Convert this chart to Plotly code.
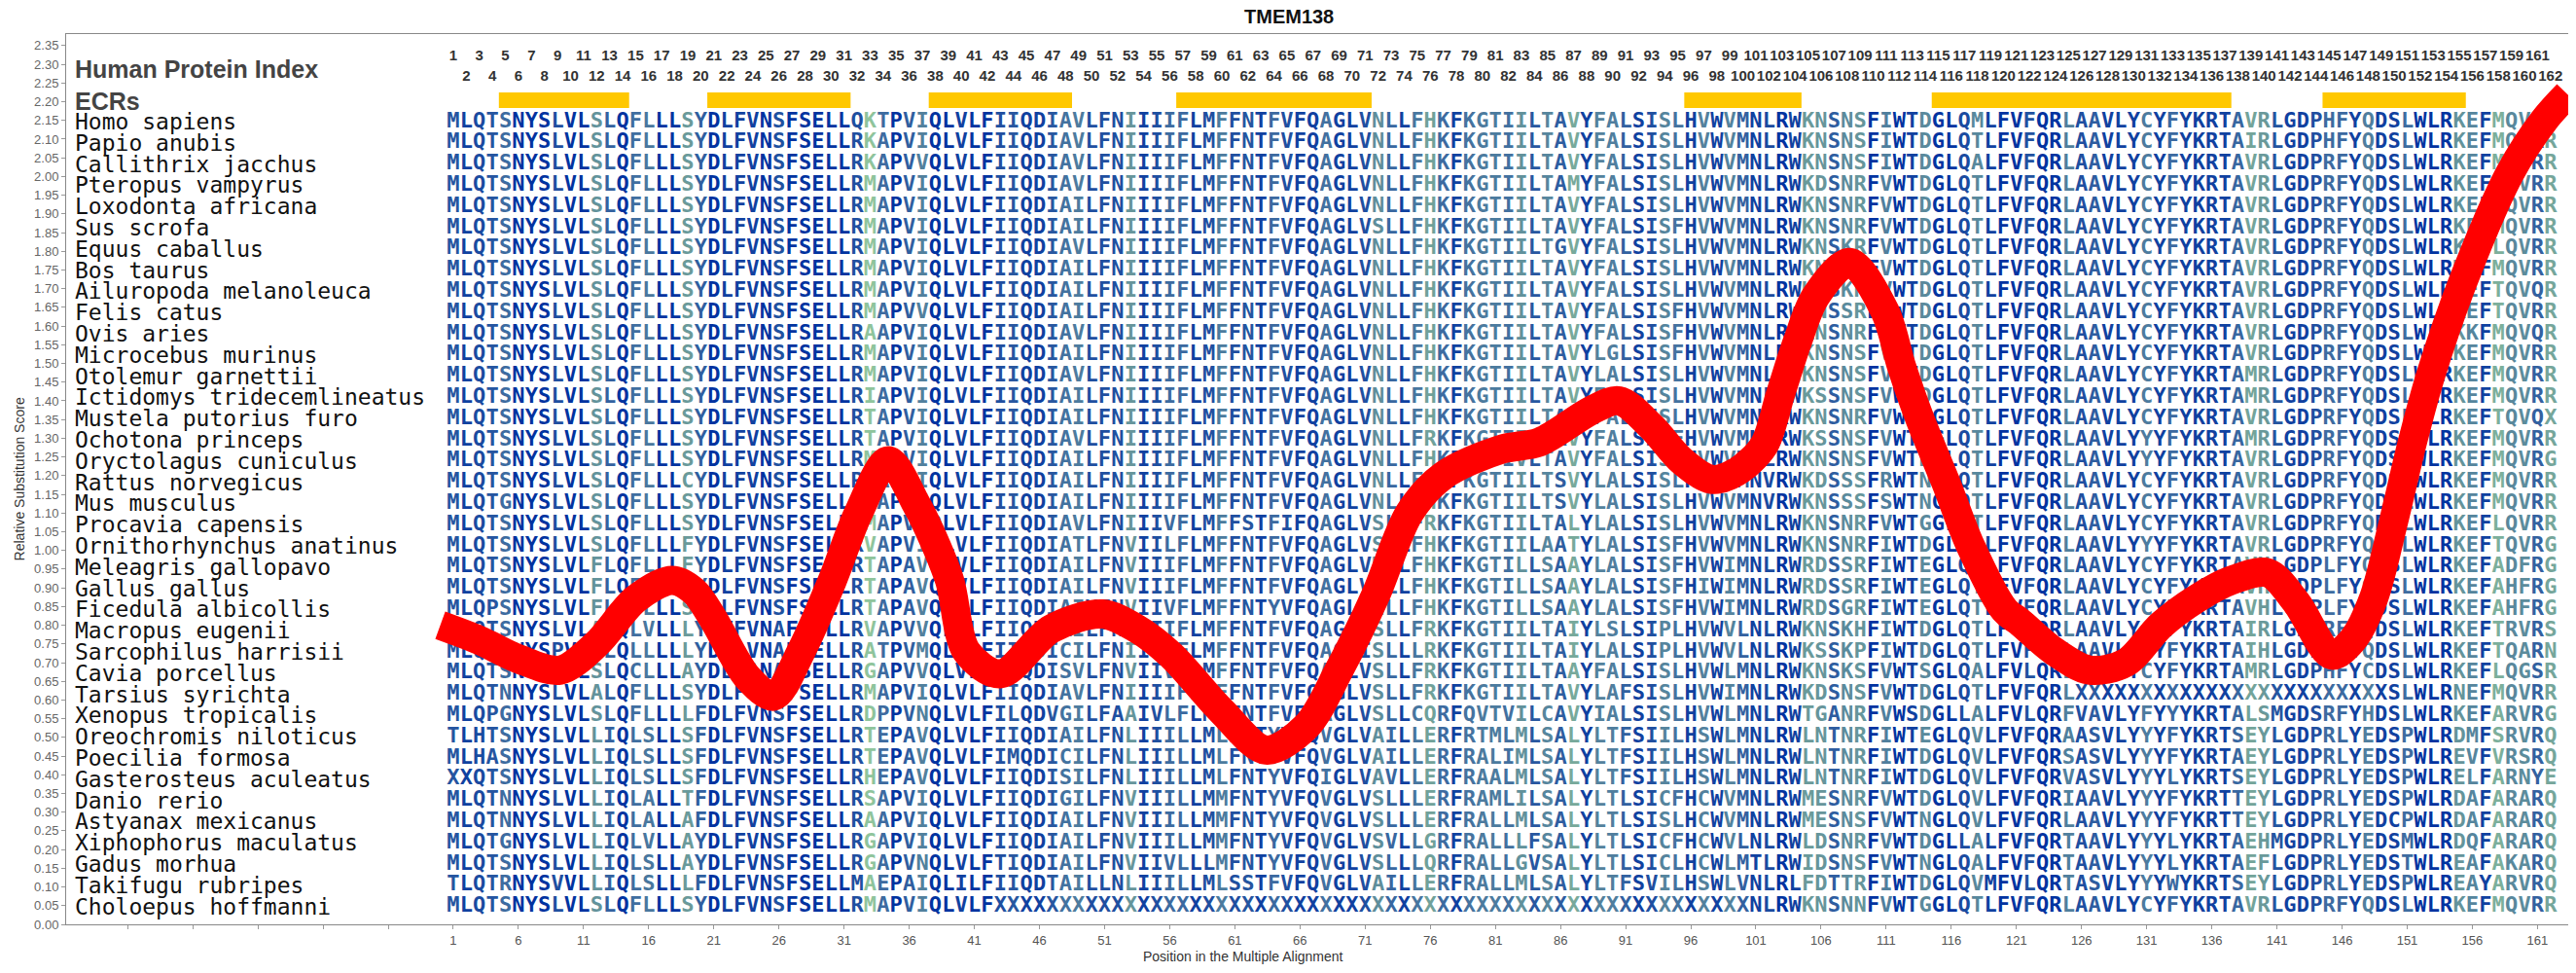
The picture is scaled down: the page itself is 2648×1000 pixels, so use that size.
import math
from collections import Counter

import plotly.graph_objects as go


TITLE = "TMEM138"

SPECIES = [
    "Homo sapiens", "Papio anubis", "Callithrix jacchus", "Pteropus vampyrus",
    "Loxodonta africana", "Sus scrofa", "Equus caballus", "Bos taurus",
    "Ailuropoda melanoleuca", "Felis catus", "Ovis aries", "Microcebus murinus",
    "Otolemur garnettii", "Ictidomys tridecemlineatus", "Mustela putorius furo",
    "Ochotona princeps", "Oryctolagus cuniculus", "Rattus norvegicus", "Mus musculus",
    "Procavia capensis", "Ornithorhynchus anatinus", "Meleagris gallopavo", "Gallus gallus",
    "Ficedula albicollis", "Macropus eugenii", "Sarcophilus harrisii", "Cavia porcellus",
    "Tarsius syrichta", "Xenopus tropicalis", "Oreochromis niloticus", "Poecilia formosa",
    "Gasterosteus aculeatus", "Danio rerio", "Astyanax mexicanus", "Xiphophorus maculatus",
    "Gadus morhua", "Takifugu rubripes", "Choloepus hoffmanni",
]

# alignment columns 1-40
SEQ_1_40 = [
    "MLQTSNYSLVLSLQFLLLSYDLFVNSFSELLQKTPVIQLV",
    "MLQTSNYSLVLSLQFLLLSYDLFVNSFSELLRKAPVIQLV",
    "MLQTSNYSLVLSLQFLLLSYDLFVNSFSELLRKAPVVQLV",
    "MLQTSNYSLVLSLQFLLLSYDLFVNSFSELLRMAPVIQLV",
    "MLQTSNYSLVLSLQFLLLSYDLFVNSFSELLRMAPVIQLV",
    "MLQTSNYSLVLSLQFLLLSYDLFVNSFSELLRMAPVIQLV",
    "MLQTSNYSLVLSLQFLLLSYDLFVNSFSELLRMAPVIQLV",
    "MLQTSNYSLVLSLQFLLLSYDLFVNSFSELLRMAPVIQLV",
    "MLQTSNYSLVLSLQFLLLSYDLFVNSFSELLRMAPVIQLV",
    "MLQTSNYSLVLSLQFLLLSYDLFVNSFSELLRMAPVVQLV",
    "MLQTSNYSLVLSLQFLLLSYDLFVNSFSELLRAAPVIQLV",
    "MLQTSNYSLVLSLQFLLLSYDLFVNSFSELLRMAPVIQLV",
    "MLQTSNYSLVLSLQFLLLSYDLFVNSFSELLRMAPVIQLV",
    "MLQTSNYSLVLSLQFLLLSYDLFVNSFSELLRIAPVIQLV",
    "MLQTSNYSLVLSLQFLLLSYDLFVNSFSELLRTAPVIQLV",
    "MLQTSNYSLVLSLQFLLLSYDLFVNSFSELLRTAPVIQLV",
    "MLQTSNYSLVLSLQFLLLSYDLFVNSFSELLRMAPVIQLV",
    "MLQTSNYSLVLSLQFLLLCYDLFVNSFSELLRMAPVIQLV",
    "MLQTGNYSLVLSLQFLLLSYDLFVNSFSELLRMAPVIQLV",
    "MLQTSNYSLVLSLQFLLLSYDLFVNSFSELLRMAPVIQLV",
    "MLQTSNYSLVLSLQFLLLFYDLFVNSFSELLRVAPVIQLV",
    "MLQTSNYSLVLFLQFLLLFYDLFVNSFSELLRTAPAVQLV",
    "MLQTSNYSLVLFLQFLLLFYDLFVNSFSELLRTAPAVQLV",
    "MLQPSNYSLVLFLQFLLLSYDLFVNSFSELLRTAPAVQLV",
    "MLQTSNYSLVLALQLVLLLYDVFVNAFSELLRVAPVVQLV",
    "MLQTSNYSPVLPLQLLLLLYDLLVNAFSELLRATPVMQLV",
    "MLQTSNYSLVLSLQCLLLAYDLFANAFSELLRGAPVVQLV",
    "MLQTNNYSLVLALQFLLLSYDLFVNSFSELLRMAPVIQLV",
    "MLQPGNYSLVLSLQFLLLLFDLFVNSFSELLRDPPVNQLV",
    "TLHTSNYSLVLLIQLSLLSFDLFVNSFSELLRTEPAVQLV",
    "MLHASNYSLVLLIQLSLLSFDLFVNSFSELLRTEPAVQLV",
    "XXQTSNYSLVLLIQLSLLSFDLFVNSFSELLRHEPAVQLV",
    "MLQTNNYSLVLLIQLALLTFDLFVNSFSELLRSAPVIQLV",
    "MLQTNNYSLVLLIQLALLAFDLFVNSFSELLRAAPVIQLV",
    "MLQTGNYSLVLLIQLVLLAYDLFVNSFSELLRGAPVIQLV",
    "MLQTSNYSLVLLIQLSLLAYDLFVNSFSELLRGAPVNQLV",
    "TLQTRNYSVVLLIQLSLLLFDLFVNSFSELLMAEPAIQLI",
    "MLQTSNYSLVLSLQFLLLSYDLFVNSFSELLRMAPVIQLV",
]

# alignment columns 41-80
SEQ_41_80 = [
    "LFIIQDIAVLFNIIIIFLMFFNTFVFQAGLVNLLFHKFKG",
    "LFIIQDIAVLFNIIIIFLMFFNTFVFQAGLVNLLFHKFKG",
    "LFIIQDIAVLFNIIIIFLMFFNTFVFQAGLVNLLFHKFKG",
    "LFIIQDIAVLFNIIIIFLMFFNTFVFQAGLVNLLFHKFKG",
    "LFIIQDIAILFNIIIIFLMFFNTFVFQAGLVNLLFHKFKG",
    "LFIIQDIAILFNIIIIFLMFFNTFVFQAGLVSLLFHKFKG",
    "LFIIQDIAVLFNIIIIFLMFFNTFVFQAGLVNLLFHKFKG",
    "LFIIQDIAILFNIIIIFLMFFNTFVFQAGLVNLLFHKFKG",
    "LFIIQDIAILFNIIIIFLMFFNTFVFQAGLVNLLFHKFKG",
    "LFIIQDIAILFNIIIIFLMFFNTFVFQAGLVNLLFHKFKG",
    "LFIIQDIAVLFNIIIIFLMFFNTFVFQAGLVNLLFHKFKG",
    "LFIIQDIAILFNIIIIFLMFFNTFVFQAGLVNLLFHKFKG",
    "LFIIQDIAVLFNIIIIFLMFFNTFVFQAGLVNLLFHKFKG",
    "LFIIQDIAILFNIIIIFLMFFNTFVFQAGLVNLLFHKFKG",
    "LFIIQDIAILFNIIIIFLMFFNTFVFQAGLVNLLFHKFKG",
    "LFIIQDIAVLFNIIIIFLMFFNTFVFQAGLVNLLFRKFKG",
    "LFIIQDIAILFNIIIIFLMFFNTFVFQAGLVNLLFHKFKG",
    "LFIIQDIAILFNIIIIFLMFFNTFVFQAGLVNLLFHKFKG",
    "LFIIQDIAILFNIIIIFLMFFNTFVFQAGLVNLLFHKFKG",
    "LFIIQDIAVLFNIIIVFLMFFSTFIFQAGLVSLLFRKFKG",
    "LFIIQDIATLFNVIILFLMFFNTFVFQAGLVSLLFHKFKG",
    "LFIIQDIAILFNVIIIFLMFFNTFVFQAGLVNLLFHKFKG",
    "LFIIQDIAILFNVIIIFLMFFNTFVFQAGLVNLLFHKFKG",
    "LFIIQDIAIVFNVIIVFLMFFNTYVFQAGLVNLLFHKFKG",
    "LFIIQDIAILFNVIIIFLMFFNTFVFQAGLVSLLFRKFKG",
    "LFIIQDICILFNIIIIFLMFFNTFVFQAGLISLLLRKFKG",
    "LFIIQDISVLFNVIIVFLMFFNTFVFQAGLVSLLFRKFKG",
    "LFIIQDIAVLFNIIIIFLMFFNTFVFQAGLVSLLFRKFKG",
    "LFILQDVGILFAAIVLFLMLFNTFVFQAGLVSLLCQRFQV",
    "LFIIQDIAILFNLIIILLMLFNTYVFQVGLVAILLERFRT",
    "LFIMQDICILFNLIIILLMLFNTYVFQVGLVAILLERFRA",
    "LFIIQDISILFNLIIILLMLFNTYVFQIGLVAVLLERFRA",
    "LFIIQDIGILFNVIIILLMMFNTYVFQVGLVSLLLERFRA",
    "LFIIQDIAILFNVIIILLMMFNTYVFQVGLVSLLLERFRA",
    "LFIIQDIAILFNVIIILLMMFNTYVFQVGLVSVLLGRFRA",
    "LFTIQDIAILFNVIIVLLLMFNTYVFQVGLVSLLLQRFRA",
    "LFIIQDTAILLNLIIILLMLSSTFVFQVGLVAILLERFRA",
    "LFXXXXXXXXXXXXXXXXXXXXXXXXXXXXXXXXXXXXXX",
]

# alignment columns 81-120
SEQ_81_120 = [
    "TIILTAVYFALSISLHVWVMNLRWKNSNSFIWTDGLQMLF",
    "TIILTAVYFALSISLHVWVMNLRWKNSNSFIWTDGLQTLF",
    "TIILTAVYFALSISLHVWVMNLRWKNSNSFIWTDGLQALF",
    "TIILTAMYFALSISLHVWVMNLRWKDSNRFVWTDGLQTLF",
    "TIILTAVYFALSISLHVWVMNLRWKNSNRFVWTDGLQTLF",
    "TIILTAVYFALSISFHVWVMNLRWKNSNRFVWTDGLQTLF",
    "TIILTGVYFALSISLHVWVMNLRWKNSKRFVWTDGLQTLF",
    "TIILTAVYFALSISLHVWVMNLRWKNSNCFVWTDGLQTLF",
    "TIILTAVYFALSISLHVWVMNLRWKNSKRFVWTDGLQTLF",
    "TIILTAVYFALSISFHVWVMNLRWKNSSRFVWTDGLQTLF",
    "TIILTAVYFALSISFHVWVMNLRWKNSNRFVWTDGLQTLF",
    "TIILTAVYLGLSISFHVWVMNLRWKNSNSFVWTDGLQTLF",
    "TIILTAVYLALSISLHVWVMNLRWKNSNSFVWTDGLQTLF",
    "TIILTAVYFALSISLHVWVMNLRWKSSNSFVWTDGLQTLF",
    "TIILTAVYFALSISLHVWVMNLRWKNSNRFVWTDGLQTLF",
    "TIILTAVYFALSISFHVWVMNLRWKSSNSFVWTDGLQTLF",
    "TIVLTAVYFALSISFHVWVMNLRWKNSNSFVWTDGLQTLF",
    "TIILTSVYLALSISLHVWVMNVRWKDSSSFRWTNGLQTLF",
    "TIILTSVYLALSISLHVWVMNVRWKNSSSFSWTNGLQTLF",
    "TIILTALYLALSISLHVWVMNLRWKNSNRFVWTGGLQTLF",
    "TIILAATYLALSISFHVWVMNLRWKNSNRFIWTDGLQALF",
    "TILLSAAYLALSISFHVWIMNLRWRDSSRFIWTEGLQTLF",
    "TILLSAAYLALSISFHIWIMNLRWRDSSRFIWTEGLQTLF",
    "TILLSAAYLALSISFHVWIMNLRWRDSGRFIWTEGLQTLF",
    "TIILTAIYLSLSIPLHVWVLNLRWKNSKHFIWTDGLQTLF",
    "TIILTAIYLALSIPLHVWVLNLRWKSSKPFIWTDGLQTLF",
    "TIILTAAYFALSISLHVWLMNLRWKNSKSFVWTSGLQALF",
    "TIILTAVYLAFSISLHVWIMNLRWKDSNSFVWTDGLQTLF",
    "TVILCAVYIALSISLHVWLMNLRWTGANRFVWSDGLLALF",
    "MLMLSALYLTFSIILHSWLMNLRWLNTNRFIWTEGLQVLF",
    "LIMLSALYLTFSIILHSWLMNLRWLNTNRFIWTDGLQVLF",
    "ALMLSALYLTFSIILHSWLMNLRWLNTNRFIWTDGLQVLF",
    "MLILSALYLTLSICFHCWVMNLRWMESNRFVWTDGLQVLF",
    "LLMLSALYLTLSISLHCWVMNLRWMESNSFVWTNGLQVLF",
    "LLLFSALYLTLSICFHCWVLNLRWLDSNRFVWTDGLLALF",
    "LLGVSALYLTLSICLHCWLMTLRWIDSNSFVWTNGLQALF",
    "LLMLSALYLTFSVILHSWLVNLRLFDTTRFIWTDGLQVMF",
    "XXXXXXXXXXXXXXXXXXXXNLRWKNSNNFVWTGGLQTLF",
]

# alignment columns 121-162
SEQ_121_162 = [
    "VFQRLAAVLYCYFYKRTAVRLGDPHFYQDSLWLRKEFMQVRR",
    "VFQRLAAVLYCYFYKRTAIRLGDPHFYQDSLWLRKEFMQVRR",
    "VFQRLAAVLYCYFYKRTAVRLGDPRFYQDSLWLRKEFMQVRR",
    "VFQRLAAVLYCYFYKRTAVRLGDPRFYQDSLWLRKEFMQVRR",
    "VFQRLAAVLYCYFYKRTAVRLGDPRFYQDSLWLRKEFLQVRR",
    "VFQRLAAVLYCYFYKRTAVRLGDPRFYQDSLWLRKEFMQVRR",
    "VFQRLAAVLYCYFYKRTAVRLGDPRFYQDSLWLRKEFLQVRR",
    "VFQRLAAVLYCYFYKRTAVRLGDPRFYQDSLWLRMEFMQVRR",
    "VFQRLAAVLYCYFYKRTAVRLGDPRFYQDSLWLRREFTQVQR",
    "VFQRLAAVLYCYFYKRTAVRLGDPRFYQDSLWLRREFTQVRR",
    "VFQRLAAVLYCYFYKRTAVRLGDPRFYQDSLWLRKKFMQVQR",
    "VFQRLAAVLYCYFYKRTAVRLGDPRFYQDSLWLRKEFMQVRR",
    "VFQRLAAVLYCYFYKRTAMRLGDPRFYQDSLWLRKEFMQVRR",
    "VFQRLAAVLYCYFYKRTAMRLGDPRFYQDSLWLRKEFMQVRR",
    "VFQRLAAVLYCYFYKRTAVRLGDPRFYQDSLWLRKEFTQVQX",
    "VFQRLAAVLYYYFYKRTAMRLGDPRFYQDSLWLRKEFMQVRR",
    "VFQRLAAVLYYYFYKRTAVRLGDPRFYQDSLWLRKEFMQVRG",
    "VFQRLAAVLYCYFYKRTAVRLGDPRFYQDSLWLRKEFMQVRR",
    "VFQRLAAVLYCYFYKRTAVRLGDPRFYQDSLWLRKEFMQVRR",
    "VFQRLAAVLYCYFYKRTAVRLGDPRFYQDSLWLRKEFLQVRR",
    "VFQRLAAVLYYYFYKRTAVRLGDPRFYQDSLWLRKEFTQVRG",
    "VFQRLAAVLYCYFYKRTAVHLGDPLFYQDSLWLRKEFADFRG",
    "VFQRLAAVLYCYFYKRTAVHLGDPLFYQDSLWLRKEFAHFRG",
    "VFQRLAAVLYCYFYKRTAVHLGDPLFYQDSLWLRKEFAHFRG",
    "VFQRLAAVLYCYFYKRTAIRLGDPRFYQDSLWLRKEFTRVRS",
    "VFQRLAAVLYCYFYKRTAIHLGDPRFYQDSLWLRKEFTQARN",
    "VLQRLAAVLYCYFYKRTAMRLGDPHFYCDSLWLRKEFLQGSR",
    "VFQRLXXXXXXXXXXXXXXXXXXXXXXXXSLWLRNEFMQVRR",
    "VLQRFVAVLYFYYYKRTALSMGDSRFYHDSLWLRKEFARVRG",
    "VFQRAASVLYYYFYKRTSEYLGDPRLYEDSPWLRDMFSRVRQ",
    "VFQRSASVLYYYFYKRTAEYLGDPRLYEDSPWLREVFVRSRQ",
    "VFQRVASVLYYYLYKRTSEYLGDPRLYEDSPWLRELFARNYE",
    "VFQRIAAVLYYYFYKRTTEYLGDPRLYEDSPWLRDAFARARQ",
    "VFQRLAAVLYYYFYKRTTEYLGDPRLYEDCPWLRDAFARARQ",
    "VFQRTAAVLYYYLYKRTAEHMGDPRLYEDSMWLRDQFARARQ",
    "VFQRTAAVLYYYLYKRTAEFLGDPRLYEDSTWLREAFAKARQ",
    "VLQRTASVLYYYWYKRTSEYLGDPRLYEDSPWLREAYARVRQ",
    "VFQRLAAVLYCYFYKRTAVRLGDPRFYQDSLWLRKEFMQVRR",
]

ECR_START = [5, 21, 38, 57, 96, 115, 145]
ECR_END = [14, 31, 48, 71, 104, 137, 155]

# relative substitution score
SCORE_POS = [0, 3, 6, 9.2, 12, 15, 17.8, 19.5, 20.9, 23.6, 25.6, 27.7, 30.1, 32.1, 34.4,
             36.6, 37.6, 39.1, 40.4, 43, 46.9, 50.8, 53.5, 56.1, 60, 63.4, 66.5, 69,
             71.8, 74.4, 77, 81.4, 84.4, 88.4, 90.5, 93, 95.3, 97.6, 99.5, 101.6, 102.9,
             104.2, 105.6, 108.2, 110.9, 112.2, 113.5, 115.6, 117.5, 120.1, 121.2, 123.9,
             126.6, 129.4, 132.1, 134.8, 137.5, 140.3, 142.5, 145.2, 146.8, 148.4, 149.9,
             151.4, 152.9, 155.4, 158.9, 161.5, 163.3]
SCORE_VAL = [0.80, 0.76, 0.71, 0.68, 0.75, 0.87, 0.92, 0.89, 0.82, 0.66, 0.61, 0.73, 0.92,
             1.10, 1.24, 1.12, 1.05, 0.92, 0.73, 0.67, 0.79, 0.83, 0.79, 0.72, 0.57, 0.466,
             0.53, 0.68, 0.88, 1.10, 1.20, 1.27, 1.29, 1.375, 1.40, 1.33, 1.24, 1.19, 1.21,
             1.28, 1.42, 1.56, 1.68, 1.77, 1.64, 1.49, 1.36, 1.18, 1.01, 0.84, 0.81, 0.73,
             0.68, 0.70, 0.80, 0.87, 0.92, 0.94, 0.86, 0.72, 0.76, 0.87, 1.07,
             1.29, 1.48, 1.73, 2.01, 2.15, 2.22]

Y_TICKS = [round(i * 0.05, 2) for i in range(48)]
X_TICKS = list(range(-29, 162, 5))

SEQUENCES = [a + b + c + d for a, b, c, d in zip(SEQ_1_40, SEQ_41_80, SEQ_81_120, SEQ_121_162)]
N_COL = 162

FONT_SANS = "Liberation Sans, Arial, sans-serif"
FONT_MONO = "DejaVu Sans Mono"

# conservation colours: column entropy (bits) -> dark blue ... light green
COLOR_STOPS = [
    (0.0, (0, 51, 160)),
    (0.35, (31, 79, 160)),
    (0.95, (61, 107, 160)),
    (1.65, (106, 154, 154)),
    (2.5, (143, 196, 156)),
]


def _column_color(column: str) -> str:
    counts = Counter(column)
    total = len(column)
    h = -sum(c / total * math.log2(c / total) for c in counts.values())
    if h <= COLOR_STOPS[0][0]:
        rgb = COLOR_STOPS[0][1]
    elif h >= COLOR_STOPS[-1][0]:
        rgb = COLOR_STOPS[-1][1]
    else:
        for (h0, c0), (h1, c1) in zip(COLOR_STOPS[:-1], COLOR_STOPS[1:]):
            if h0 <= h <= h1:
                t = (h - h0) / (h1 - h0)
                rgb = tuple(round(a + (b - a) * t) for a, b in zip(c0, c1))
                break
    return "rgb({},{},{})".format(*rgb)


col_colors = []
for j in range(N_COL):
    col_colors.append(_column_color("".join(s[j] if j < len(s) else "X" for s in SEQUENCES)))

xs, ys, chars, colors = [], [], [], []
for i, seq in enumerate(SEQUENCES):
    for j, ch in enumerate(seq[:N_COL]):
        xs.append(j + 1)
        ys.append(i)
        chars.append(ch)
        colors.append(col_colors[j])

fig = go.Figure()

fig.add_trace(go.Scatter(
    x=xs, y=ys, text=chars, mode="text", yaxis="y", hoverinfo="skip",
    textfont=dict(family=FONT_MONO, size=22, weight="bold", color=colors),
    showlegend=False,
))

odd = list(range(1, N_COL + 1, 2))
even = list(range(2, N_COL + 1, 2))
fig.add_trace(go.Scatter(
    x=odd, y=[-3.08] * len(odd), text=[str(v) for v in odd], mode="text", yaxis="y",
    hoverinfo="skip", showlegend=False,
    textfont=dict(family=FONT_SANS, size=15, weight="bold", color="#333333"),
))
fig.add_trace(go.Scatter(
    x=even, y=[-2.08] * len(even), text=[str(v) for v in even], mode="text", yaxis="y",
    hoverinfo="skip", showlegend=False,
    textfont=dict(family=FONT_SANS, size=15, weight="bold", color="#333333"),
))

fig.add_trace(go.Scatter(
    x=SCORE_POS, y=SCORE_VAL, mode="lines", yaxis="y2", hoverinfo="skip", showlegend=False,
    line=dict(color="#ff0000", width=30, shape="spline", smoothing=0.9),
))

for start, end in zip(ECR_START, ECR_END):
    fig.add_shape(type="rect", xref="x", yref="y", x0=start - 0.5, x1=end + 0.5,
                  y0=-1.38, y1=-0.64, fillcolor="#ffc800", line=dict(width=0))

annotations = []
for i, name in enumerate(SPECIES):
    annotations.append(dict(
        x=-28.2, y=i, xref="x", yref="y", text=name, showarrow=False, xanchor="left",
        yanchor="middle", font=dict(family=FONT_MONO, size=23, color="#111111"),
    ))
annotations += [
    dict(x=-28.2, y=-2.48, xref="x", yref="y", text="<b>Human Protein Index</b>", showarrow=False,
         xanchor="left", yanchor="middle", font=dict(family=FONT_SANS, size=25, color="#444444")),
    dict(x=-28.2, y=-0.96, xref="x", yref="y", text="<b>ECRs</b>", showarrow=False,
         xanchor="left", yanchor="middle", font=dict(family=FONT_SANS, size=25, color="#444444")),
    dict(x=0.4887, y=1.0197, xref="paper", yref="paper", text="<b>" + TITLE + "</b>",
         showarrow=False, xanchor="center", yanchor="middle",
         font=dict(family=FONT_SANS, size=20, color="#111111")),
    dict(x=0.4705, y=-0.036, xref="paper", yref="paper", text="Position in the Multiple Alignment",
         showarrow=False, xanchor="center", yanchor="middle",
         font=dict(family=FONT_SANS, size=14, color="#333333")),
    dict(x=-0.0187, y=0.5, xref="paper", yref="paper", text="Relative Substitution Score",
         showarrow=False, textangle=-90, xanchor="center", yanchor="middle",
         font=dict(family=FONT_SANS, size=14, color="#333333")),
]

# the page body adds an 8px margin, so the figure is sized to fit inside the window
fig.update_layout(
    width=2632, height=984,
    margin=dict(l=60, r=0, t=27, b=42),
    paper_bgcolor="white", plot_bgcolor="white",
    hovermode=False, showlegend=False,
    annotations=annotations,
    xaxis=dict(
        range=[-28.72, 163.36], tickvals=X_TICKS,
        ticktext=[str(v) if v >= 1 else "" for v in X_TICKS],
        ticks="outside", ticklen=4, tickcolor="#999999", showgrid=False, zeroline=False,
        showline=True, linecolor="#888888", mirror=True,
        tickfont=dict(family=FONT_SANS, size=13, color="#555555"),
    ),
    yaxis=dict(range=[37.84, -4.128], visible=False, fixedrange=True),
    yaxis2=dict(
        overlaying="y", side="left", range=[0, 2.381], tickvals=Y_TICKS, tickformat=".2f",
        ticks="outside", ticklen=4, tickcolor="#999999", showgrid=False, zeroline=False,
        showline=True, linecolor="#888888", mirror=True,
        tickfont=dict(family=FONT_SANS, size=13, color="#666666"),
    ),
)

fig.write_html("out.html")
